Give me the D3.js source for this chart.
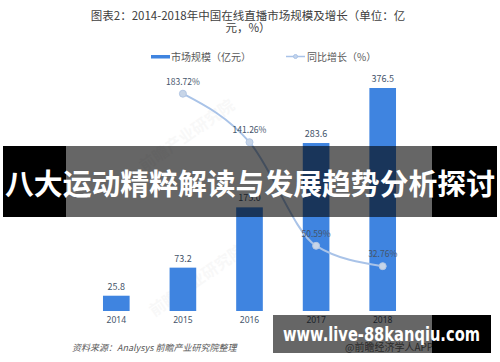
<!DOCTYPE html>
<html><head><meta charset="utf-8">
<script src="https://cdn.jsdelivr.net/npm/d3@7"></script>
<style>body{margin:0;background:#fff}svg{display:block}text{font-family:"Noto Sans CJK SC","Noto Sans",sans-serif}</style>
</head><body>
<svg id="c" width="500" height="362"></svg>
<script>
const years = ["2014","2015","2016","2017","2018"];
const marketSize = [25.8, 73.2, 175, 283.6, 376.5];
const sizeLabels = ["25.8","73.2","","283.6","376.5"];
const growthYears = ["2015","2016","2017","2018"];
const growth = [183.72, 141.26, 50.59, 32.76];
const titleLines = ["图表2：2014-2018年中国在线直播市场规模及增长（单位：亿", "元，%）"];
const legendLabels = ["市场规模（亿元）", "同比增长（%）"];
const sourceText = "资料来源：Analysys 前瞻产业研究院整理";
const bannerText = "八大运动精粹解读与发展趋势分析探讨";
const urlText = "www.live-88kanqiu.com";

const svg = d3.select("#c");
const x = d3.scaleBand().domain(years).range([83, 416]).paddingInner(0.6).paddingOuter(0.3);
const y = d3.scaleLinear().domain([0, 400]).range([311, 311 - 400 * 0.5923]);
const yG = d3.scaleLinear().domain([0, 200]).range([303.6, 75.1]);
const barColor = "#3f84e0", lineColor = "#a9c3e8", labelColor = "#44546a";

// title
svg.selectAll("text.title").data(titleLines).join("text").attr("class","title")
  .attr("x", 248).attr("y", (d,i) => 20 + i * 11.5).attr("text-anchor","middle")
  .attr("font-size", 11.5).attr("fill", "#404040").text(d => d);

// faint watermarks
[[190,140],[200,285]].forEach(p => {
  svg.append("text").attr("transform", `translate(${p[0]},${p[1]}) rotate(-35)`)
    .attr("text-anchor","middle").attr("font-size", 16).attr("font-weight","bold")
    .attr("fill","#000").attr("opacity",0.025).text("前瞻产业研究院");
});

// legend
svg.append("rect").attr("x",151).attr("y",55).attr("width",19).attr("height",3.5).attr("fill",barColor);
svg.append("text").attr("x",171).attr("y",60.5).attr("font-size",10).attr("fill","#595959").text(legendLabels[0]);
svg.append("line").attr("x1",286).attr("x2",305).attr("y1",56.5).attr("y2",56.5).attr("stroke",lineColor).attr("stroke-width",1.5);
svg.append("circle").attr("cx",295.5).attr("cy",56.5).attr("r",2).attr("fill","#c4d4ea").attr("stroke",lineColor);
svg.append("text").attr("x",307).attr("y",60.5).attr("font-size",10).attr("fill","#595959").text(legendLabels[1]);

// bars
svg.selectAll("rect.bar").data(marketSize).join("rect").attr("class","bar")
  .attr("x",(d,i)=>x(years[i])).attr("width",x.bandwidth())
  .attr("y",d=>y(d)).attr("height",d=>y(0)-y(d)).attr("fill",barColor);
svg.selectAll("text.val").data(marketSize).join("text").attr("class","val")
  .attr("x",(d,i)=>x(years[i])+x.bandwidth()/2).attr("y",d=>y(d)-6)
  .attr("text-anchor","middle").attr("font-size",9).attr("fill",labelColor)
  .text((d,i)=>sizeLabels[i] || d3.format(".1f")(d));

// x axis labels
const xAxis = d3.axisBottom(x).tickSize(0).tickPadding(0);
const gx = svg.append("g").attr("transform","translate(0,317)").call(xAxis);
gx.select(".domain").remove();
gx.selectAll("text").attr("font-size",8.5).attr("fill",labelColor).attr("dy","0.75em")
  .style("font-family",'"Noto Sans","DejaVu Sans",sans-serif');

// growth line
const cx = d => x(d) + x.bandwidth()/2;
const line = d3.line().x((d,i)=>cx(growthYears[i])).y(d=>yG(d)).curve(d3.curveMonotoneX);
svg.append("path").datum(growth).attr("d",line).attr("fill","none").attr("stroke",lineColor).attr("stroke-width",2);
svg.selectAll("circle.pt").data(growth).join("circle").attr("class","pt")
  .attr("cx",(d,i)=>cx(growthYears[i])).attr("cy",d=>yG(d)).attr("r",3.5)
  .attr("fill","#c7d5e8").attr("stroke","#b3c7e4").attr("stroke-width",1);
svg.selectAll("text.g").data(growth).join("text").attr("class","g")
  .attr("x",(d,i)=>cx(growthYears[i])).attr("y",d=>yG(d)-9)
  .attr("text-anchor","middle").attr("font-size",8.5).attr("fill",labelColor)
  .text(d=>d3.format(".2f")(d)+"%");

// source
svg.append("text").attr("x",72).attr("y",351).attr("font-size",9).attr("font-style","italic")
  .attr("fill","#595959").text(sourceText);
svg.append("text").attr("x",345).attr("y",351).attr("font-size",10).attr("fill","#6a6a6a").text("@前瞻经济学人APP");

// main banner
svg.append("rect").attr("x",3).attr("y",146).attr("width",63).attr("height",71).attr("fill","#000");
svg.append("rect").attr("x",66).attr("y",146).attr("width",366).attr("height",71).attr("fill","rgba(0,0,0,0.6)");
svg.append("rect").attr("x",432).attr("y",146).attr("width",65).attr("height",71).attr("fill","#000");
svg.append("text").attr("x",5).attr("y",195).attr("font-size",29).attr("font-weight","bold")
  .attr("fill","#fff").attr("textLength",490).attr("lengthAdjust","spacingAndGlyphs").text(bannerText);

// url banner
svg.append("rect").attr("x",273).attr("y",315).attr("width",159).attr("height",38).attr("fill","rgba(0,0,0,0.6)");
svg.append("rect").attr("x",432).attr("y",315).attr("width",59).attr("height",38).attr("fill","#000");
svg.append("text").attr("x",283).attr("y",341).attr("font-size",19).attr("font-weight","bold")
  .style("font-family",'"DejaVu Sans",sans-serif')
  .attr("fill","#fff").attr("textLength",197).attr("lengthAdjust","spacingAndGlyphs").text(urlText);
</script>
</body></html>
